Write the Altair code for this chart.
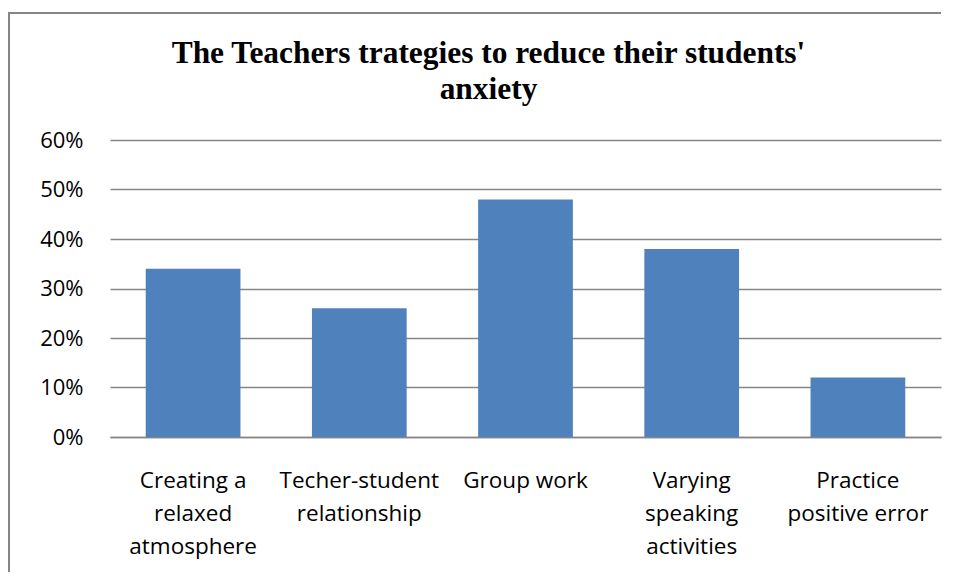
import altair as alt
import pandas as pd

categories = [
    "Creating a|relaxed|atmosphere",
    "Techer-student|relationship",
    "Group work",
    "Varying|speaking|activities",
    "Practice|positive error",
]
values = [0.34, 0.26, 0.48, 0.38, 0.12]
y_ticks = [0, 0.1, 0.2, 0.3, 0.4, 0.5, 0.6]
title_lines = ["The Teachers trategies to reduce their students'", "anxiety"]

df = pd.DataFrame({"category": categories, "value": values})

GRID = "#868686"

bars = alt.Chart(df).mark_bar(color="#4F81BD").encode(
    x=alt.X(
        "category:N",
        sort=categories,
        title=None,
        scale=alt.Scale(paddingInner=0.43, paddingOuter=0.215),
        axis=alt.Axis(
            labelAngle=0,
            labelExpr="split(datum.label, '|')",
            labelFont="Open Sans",
            labelFontSize=22.5,
            labelLineHeight=33,
            labelColor="#000000",
            labelPadding=32,
            labelLimit=400,
            ticks=False,
            domain=True,
            domainColor=GRID,
            domainWidth=1.5,
            grid=False,
        ),
    ),
    y=alt.Y(
        "value:Q",
        title=None,
        scale=alt.Scale(domain=[0, 0.6], nice=False),
        axis=alt.Axis(
            values=y_ticks,
            format=".0%",
            labelFont="Open Sans",
            labelFontSize=22,
            labelColor="#000000",
            labelPadding=27,
            ticks=False,
            domain=False,
            grid=True,
            gridColor=GRID,
            gridWidth=1.4,
        ),
    ),
)

frame_top = alt.Chart(df).mark_rect(color=GRID, strokeWidth=0).encode(
    x=alt.value(-101.75), x2=alt.value(831), y=alt.value(-127.75), y2=alt.value(-126.25)
)
frame_left = alt.Chart(df).mark_rect(color=GRID, strokeWidth=0).encode(
    x=alt.value(-101.75), x2=alt.value(-100.25), y=alt.value(-127.75), y2=alt.value(432)
)

chart = alt.layer(bars, frame_top, frame_left).properties(
    width=831,
    height=297,
    padding={"left": 102, "top": 132, "right": 8, "bottom": 135},
    autosize=alt.AutoSizeParams(type="none"),
    background="white",
    title=alt.TitleParams(
        text=title_lines,
        font="Liberation Serif",
        fontSize=31.4,
        fontWeight="bold",
        color="#000000",
        lineHeight=36,
        anchor="middle",
        offset=36,
        dx=-37,
        dy=129,
    ),
).configure_view(stroke=None)

chart.save("out.html", embed_options={"renderer": "svg", "actions": False})
